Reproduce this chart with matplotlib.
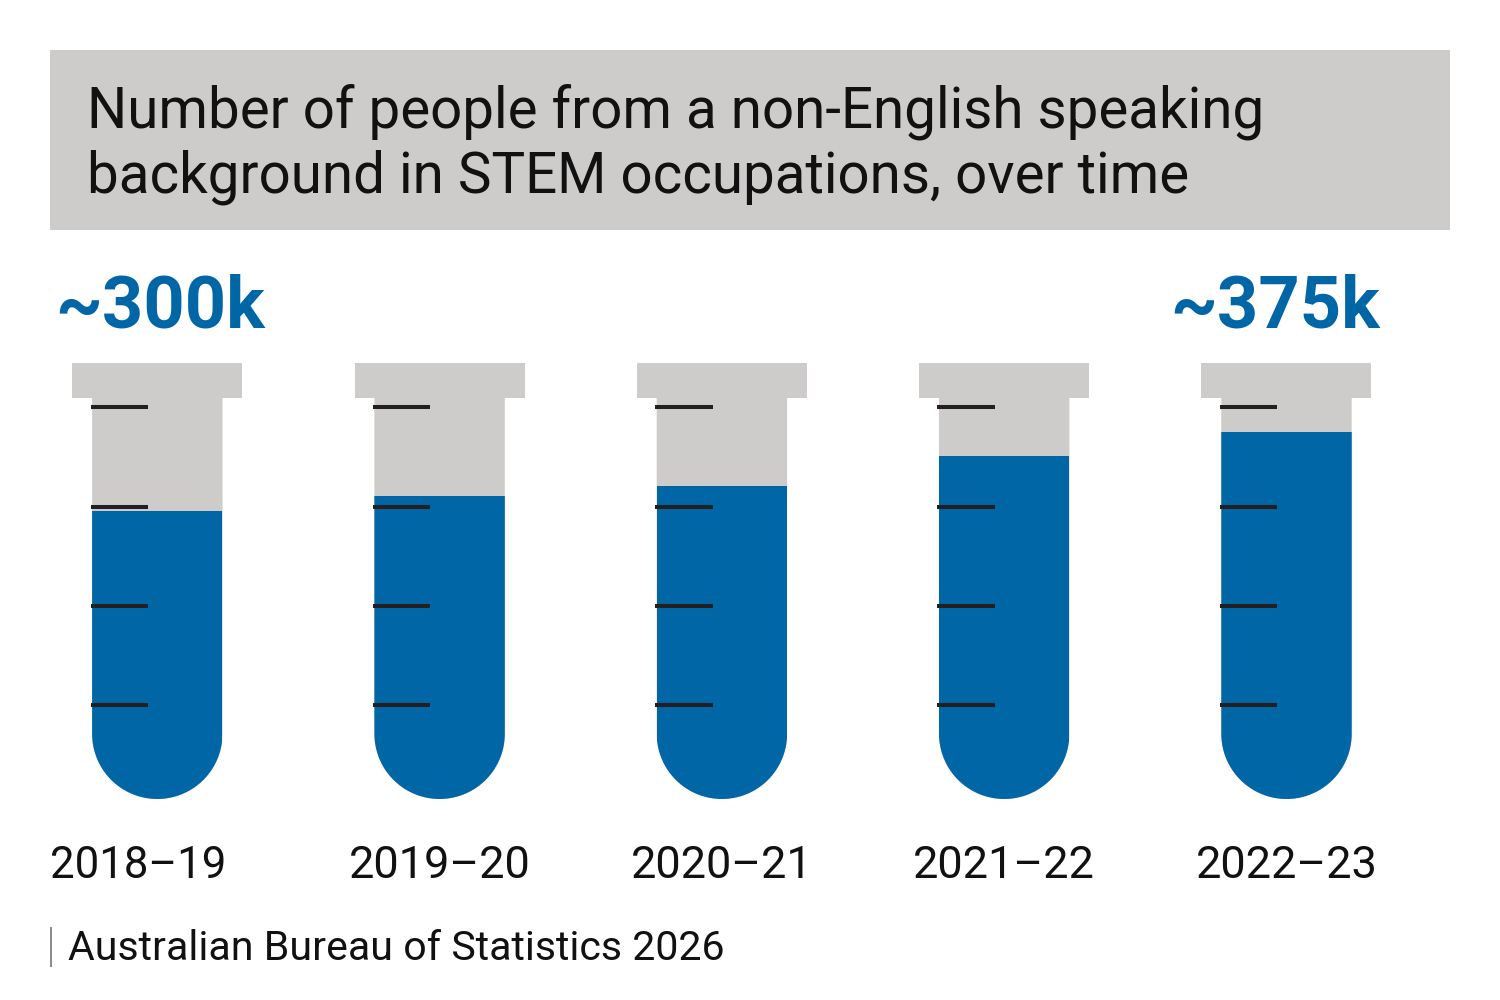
import matplotlib
matplotlib.use("Agg")
import matplotlib.pyplot as plt
import numpy as np
from matplotlib.patches import Rectangle, PathPatch
from matplotlib.path import Path

# ---------------- data ----------------
categories = ["2018–19", "2019–20", "2020–21", "2021–22", "2022–23"]
values_k = [296, 311, 321, 351, 375]          # people (thousands)
callouts = ["~300k", "", "", "", "~375k"]
scale_ticks_k = [100, 200, 300, 400]
title_lines = ["Number of people from a non-English speaking",
               "background in STEM occupations, over time"]
source = "Australian Bureau of Statistics 2026"

# ---------------- style ----------------
BLUE = "#0066A6"
GREY = "#CDCCCA"
INK = "#111111"
TICK = "#231F20"
FONT = "Roboto"
callout_dx_px = [3, -11, 0, 0, -11]

W, H = 1500, 1000
fig = plt.figure(figsize=(15, 10), dpi=100)
fig.patch.set_facecolor("white")

# axes geometry (pixels)
x0_px, dx_px = 157.3, 282.3
y0_px, py_per_k = 804.5, 0.993
ylo, yhi = -30, 450
bottom_px = y0_px - ylo * py_per_k
top_px = y0_px - yhi * py_per_k
ax = fig.add_axes([(x0_px - dx_px / 2) / W, 1 - bottom_px / H,
                   5 * dx_px / W, (bottom_px - top_px) / H])
ax.set_xlim(-0.5, 4.5)
ax.set_ylim(ylo, yhi)
ax.axis("off")


def px_x(p):
    return p / dx_px


def px_y(p):
    return p / py_per_k


def yval(py):
    return (y0_px - py) / py_per_k


hw = px_x(65.2)
cap_hw = px_x(85)
cap_top, cap_bot = yval(362.7), yval(397.7)
body_bottom = yval(799)
ry = px_y(65.2)

x = np.arange(len(categories))
body_patches = []
for xi in x:
    ax.add_patch(Rectangle((xi - cap_hw, cap_bot), 2 * cap_hw, cap_top - cap_bot,
                           facecolor=GREY, edgecolor="none", zorder=1))
    cy = body_bottom + ry
    t = np.linspace(np.pi, 2 * np.pi, 80)
    verts = [(xi - hw, cap_bot + px_y(0.5))]
    verts += list(zip(xi + hw * np.cos(t), cy + ry * np.sin(t)))
    verts += [(xi + hw, cap_bot + px_y(0.5)), (xi - hw, cap_bot + px_y(0.5))]
    codes = [Path.MOVETO] + [Path.LINETO] * (len(verts) - 2) + [Path.CLOSEPOLY]
    bp = PathPatch(Path(verts, codes), facecolor=GREY, edgecolor="none", zorder=1)
    ax.add_patch(bp)
    body_patches.append(bp)

bars = ax.bar(x, values_k, width=2 * hw, color=BLUE, zorder=2, linewidth=0)
for b, bp in zip(bars, body_patches):
    b.set_clip_path(bp)

for xi in x:
    for tk in scale_ticks_k:
        ax.plot([xi - hw - px_x(1.5), xi - hw + px_x(56)], [tk, tk],
                color=TICK, lw=2.9, solid_capstyle="butt", zorder=3)

for xi, lab, dx in zip(x, callouts, callout_dx_px):
    if lab:
        ax.text(xi + px_x(dx), yval(327.7), lab, ha="center", va="baseline",
                fontsize=52, fontweight="bold", color=BLUE, family=FONT,
                clip_on=False)

for xi, cat in zip(x, categories):
    if xi == 0:
        ax.text(xi + px_x(50 - x0_px), yval(878), cat, ha="left", va="baseline",
                fontsize=31.5, color=INK, family=FONT, clip_on=False)
    else:
        ax.text(xi, yval(878), cat, ha="center", va="baseline",
                fontsize=32.5, color=INK, family=FONT, clip_on=False)

# title box
fig.patches.append(Rectangle((50 / W, 1 - 229.5 / H), 1400 / W, 179.5 / H,
                             transform=fig.transFigure, facecolor=GREY,
                             edgecolor="none", zorder=0))
fig.text(87 / W, 1 - 127.3 / H, title_lines[0], ha="left", va="baseline",
         fontsize=40.7, color=INK, family=FONT)
fig.text(87 / W, 1 - 192.7 / H, title_lines[1], ha="left", va="baseline",
         fontsize=40.7, color=INK, family=FONT)

# source
fig.patches.append(Rectangle((50 / W, 1 - 967 / H), 2.5 / W, 40 / H,
                             transform=fig.transFigure, facecolor="#8C8C8C",
                             edgecolor="none"))
fig.text(68 / W, 1 - 960 / H, source, ha="left", va="baseline",
         fontsize=29.6, color=INK, family=FONT)

fig.savefig("out.png", dpi=100)
